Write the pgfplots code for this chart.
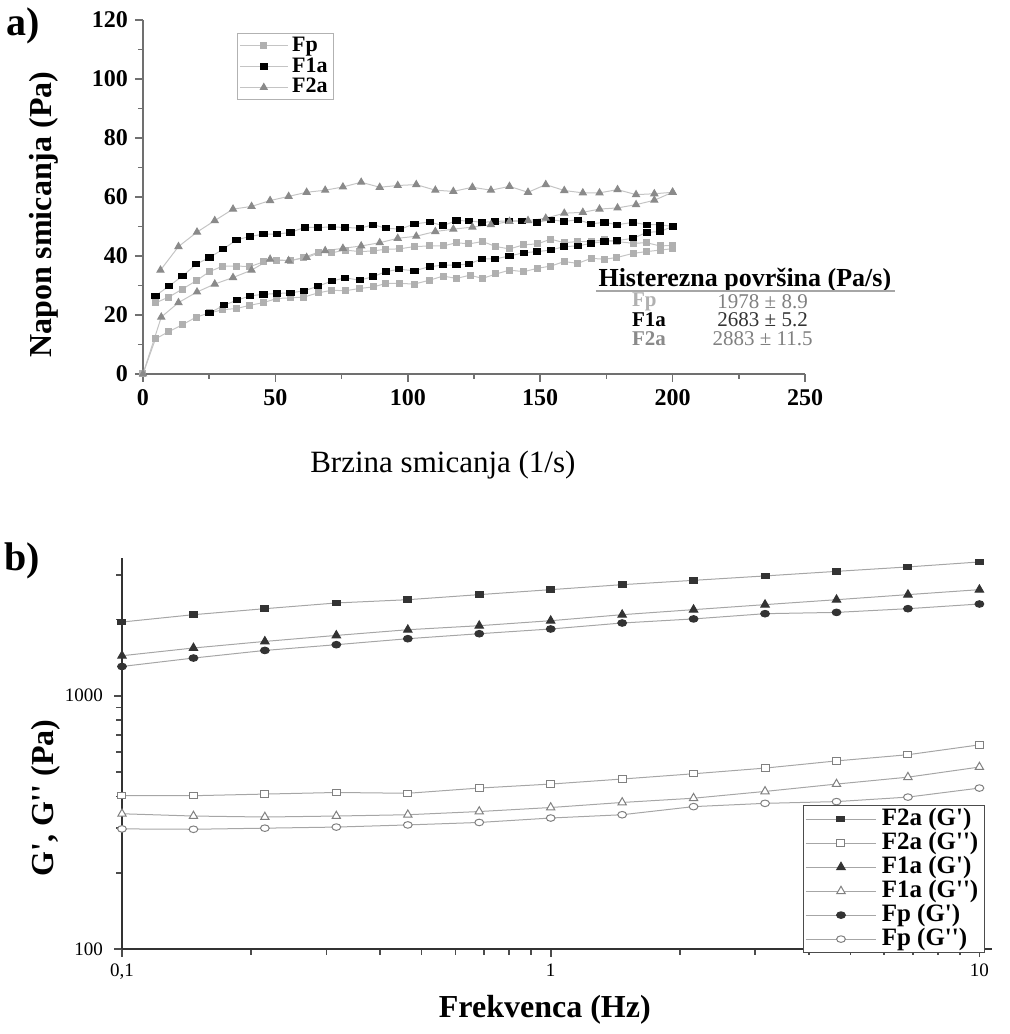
\documentclass[border=0pt]{standalone}
\usepackage{fontspec}
\setmainfont{Liberation Serif}
\usepackage{pgfplots}
\pgfplotsset{compat=1.18}
\definecolor{fpc}{HTML}{B0B0B0}
\definecolor{f2c}{HTML}{8A8A8A}
\definecolor{lnc}{HTML}{C4C4C4}
\definecolor{axc}{HTML}{707070}
\definecolor{mk}{HTML}{333333}
\begin{document}
\begin{tikzpicture}
\useasboundingbox (0,0) rectangle (504.5pt,517pt);
\node[font=\bfseries\fontsize{20}{22}\selectfont] at (11.5pt,504pt) {a)};
\node[font=\bfseries\fontsize{20}{22}\selectfont] at (11pt,236.5pt) {b)};

\begin{axis}[at={(71.5pt,330pt)}, anchor=south west, scale only axis,
  width=331pt, height=177pt, xmin=0, xmax=250, ymin=0, ymax=120,
  axis x line=bottom, axis y line=left,
  axis line style={-, axc, line width=1pt},
  xtick={0,50,...,250}, ytick={0,20,...,120},
  minor xtick={25,75,...,225}, minor ytick={10,30,...,110},
  tick align=outside, major tick length=4pt, minor tick length=2.5pt,
  tick style={axc, line width=0.8pt},
  tick label style={font=\bfseries\fontsize{12}{13}\selectfont},
  /pgf/number format/assume math mode=true,
  xlabel={Brzina smicanja (1/s)}, ylabel={Napon smicanja (Pa)},
  xlabel style={at={(axis description cs:0.453,-0.257)}, anchor=center, font=\fontsize{15.5}{16}\selectfont},
  ylabel style={at={(axis description cs:-0.15,0.45)}, anchor=center, font=\bfseries\fontsize{16}{17}\selectfont},
  clip=false,
  legend style={at={(axis description cs:0.142,0.963)}, anchor=north west, draw=gray!60,
    font=\bfseries\fontsize{11}{11}\selectfont, row sep=0pt, inner sep=1pt,
    nodes={inner ysep=0.3pt, inner xsep=2pt, text height=7.6pt, text depth=2.2pt}},
  legend cell align=left,
  legend image code/.code={\draw[#1, mark repeat=2, mark phase=2] plot coordinates {(0cm,0cm) (0.42cm,0cm) (0.84cm,0cm)};},
  every axis plot/.append style={lnc, line width=0.5pt},
]
% Fp
\addplot[lnc, mark=square*, mark size=1.5pt, mark options={fpc, draw=fpc, fill=fpc}] coordinates {
(0,0) (4.7,11.9) (9.8,14.4) (14.9,16.7) (20.1,19.3) (25.1,20.7) (30.2,21.8) (35.3,22.2) (40.4,23.3) (45.5,24.2) (50.6,25.6) (55.7,25.8) (60.8,26.1) (66.2,27.5) (71.3,28.4) (76.4,28.2) (81.8,29.0) (86.9,29.5) (91.7,30.7) (96.8,30.7) (102.5,30.5) (108.3,31.8) (113.3,33.2) (118.4,32.4) (123.5,33.5) (128.2,32.4) (133.3,33.9) (138.4,35.2) (143.8,34.7) (148.9,35.8) (154.0,36.6) (159.1,38.1) (164.2,37.5) (169.2,39.2) (174.3,38.9) (179.0,39.5) (185.1,40.9) (190.2,41.5) (195.3,42.0) (200,42.5)};
\addlegendentry{Fp}
\addplot[lnc, mark=square*, mark size=1.5pt, mark options={fpc, draw=fpc, fill=fpc}, forget plot] coordinates {
(4.7,24.1) (9.8,26.1) (14.9,28.8) (20.1,31.6) (25.1,34.7) (30.2,36.6) (35.3,36.6) (40.4,36.4) (45.5,38.0) (50.6,38.6) (55.7,38.4) (60.8,39.5) (66.2,41.3) (71.3,41.1) (76.4,42.0) (81.8,41.5) (86.9,41.7) (91.7,42.3) (96.8,42.4) (102.5,43.2) (108.3,43.4) (113.3,43.4) (118.4,44.5) (123.1,44.1) (128.2,44.9) (133.3,43.2) (138.4,42.4) (143.8,43.8) (148.9,44.1) (154.0,45.7) (159.1,44.5) (164.2,44.9) (169.2,44.9) (174.3,45.5) (179.0,44.9) (185.1,44.3) (190.2,44.5) (195.3,43.4) (200,43.6)};
% F1a
\addplot[lnc, mark=square*, mark size=1.8pt, mark options={black, draw=black, fill=black, yscale=0.75}] coordinates {
(4.7,26.5) (9.8,29.8) (14.9,33.2) (20.1,37.2) (25.1,39.5) (30.3,42.3) (35.3,45.5) (40.4,46.6) (45.5,47.4) (50.6,47.4) (55.7,48.0) (61.1,49.7) (66.2,49.7) (71.3,49.8) (76.4,49.7) (81.9,49.4) (87.0,50.6) (91.7,49.4) (97.2,49.1) (102.5,50.9) (108.3,51.5) (113.3,50.3) (118.4,52.0) (123.1,51.9) (128.0,51.4) (132.8,51.7) (138.1,51.9) (143.2,51.9) (148.9,51.4) (154.0,52.3) (159.1,51.7) (164.2,52.3) (169.2,50.9) (174.3,51.4) (179.0,50.6) (185.1,51.4) (190.2,50.6) (195.3,50.6) (200,50.0)};
\addlegendentry{F1a}
\addplot[lnc, mark=square*, mark size=1.8pt, mark options={black, draw=black, fill=black, yscale=0.75}, forget plot] coordinates {
(25.1,20.7) (30.6,23.3) (35.4,25.0) (40.5,26.5) (45.5,27.0) (50.7,27.3) (55.7,27.5) (60.8,28.2) (66.2,29.8) (71.3,31.5) (76.4,32.6) (81.8,31.8) (86.9,33.0) (91.7,34.7) (96.8,35.5) (102.5,35.0) (108.3,36.4) (113.3,36.9) (118.4,36.9) (123.1,37.3) (128.0,39.0) (133.0,39.0) (138.4,40.0) (143.8,41.1) (148.9,41.5) (154.0,42.0) (159.1,43.2) (164.2,43.4) (169.2,44.3) (174.3,44.9) (179.0,45.2) (185.1,46.0) (190.2,48.0) (195.3,48.3) (200,50.0)};
% F2a
\addplot[lnc, mark=triangle*, mark size=2pt, mark options={f2c, draw=f2c, fill=f2c}] coordinates {
(6.6,35.2) (13.4,43.2) (20.4,48.1) (27.1,52.0) (34.0,55.9) (41.0,56.8) (48.0,58.8) (55.0,60.2) (61.8,61.6) (68.8,62.3) (75.5,63.4) (82.4,65.0) (89.4,63.3) (96.2,63.9) (103.2,64.2) (110.4,62.3) (117.2,61.9) (124.4,63.3) (131.4,62.3) (138.4,63.6) (145.4,61.6) (152.1,64.2) (159.1,62.2) (166.1,61.4) (172.4,61.4) (179.2,62.5) (186.2,60.8) (193.1,61.1) (200,61.6)};
\addlegendentry{F2a}
\addplot[lnc, mark=triangle*, mark size=2pt, mark options={f2c, draw=f2c, fill=f2c}, forget plot] coordinates {
(0,0) (6.9,19.3) (13.4,24.2) (20.4,27.8) (27.1,30.5) (34.0,32.7) (41.0,35.2) (48.0,38.9) (55.0,38.4) (61.8,39.5) (68.8,41.8) (75.5,42.6) (82.4,43.4) (89.4,44.5) (96.2,46.0) (103.2,46.7) (110.4,48.3) (117.2,49.1) (124.4,49.8) (131.4,50.6) (138.4,51.7) (145.4,52.0) (152.1,52.8) (159.1,54.5) (166.1,54.8) (172.4,55.9) (179.2,56.3) (186.2,57.4) (193.1,58.9) (200,61.6)};

\node[font=\bfseries\fontsize{13}{14}\selectfont] at (axis cs:227.3,31.9) {Histerezna površina (Pa/s)};
\draw[gray!70, line width=0.8pt] (axis cs:171,28.2) -- (axis cs:284,28.2);
\node[anchor=west, font=\bfseries\fontsize{10.5}{11}\selectfont, text=fpc] at (axis cs:182,24.5) {Fp};
\node[anchor=west, font=\bfseries\fontsize{10.5}{11}\selectfont, text=black] at (axis cs:182,18.3) {F1a};
\node[anchor=west, font=\bfseries\fontsize{10.5}{11}\selectfont, text=f2c] at (axis cs:182,12.1) {F2a};
\node[font=\fontsize{10.5}{11}\selectfont, text=gray] at (axis cs:234,24.5) {1978 ± 8.9};
\node[font=\fontsize{10.5}{11}\selectfont, text=mk] at (axis cs:234,18.3) {2683 ± 5.2};
\node[font=\fontsize{10.5}{11}\selectfont, text=gray] at (axis cs:234,12.1) {2883 ± 11.5};
\end{axis}

\begin{axis}[at={(61pt,42.5pt)}, anchor=south west, scale only axis,
  width=435pt, height=195.5pt, xmode=log, ymode=log,
  xmin=0.1, xmax=10.7, ymin=100, ymax=3500,
  axis x line=bottom, axis y line=left,
  axis line style={-, black!80, line width=1.2pt},
  xtick={0.1,1,10}, xticklabels={{0,1},1,10},
  ytick={100,1000}, yticklabels={100,1000},
  minor xtick={0.2,0.3,0.4,0.5,0.6,0.7,0.8,0.9,2,3,4,5,6,7,8,9},
  minor ytick={200,300,400,500,600,700,800,900,2000,3000},
  tick align=outside, major tick length=4pt, minor tick length=3pt,
  tick style={black!70, line width=0.8pt},
  tick label style={font=\fontsize{9.5}{11}\selectfont},
  yticklabel style={xshift=-2pt},
  /pgf/number format/assume math mode=true,
  xlabel={Frekvenca (Hz)}, ylabel={G\textquotesingle, G\textquotesingle\textquotesingle\ (Pa)},
  xlabel style={at={(axis description cs:0.486,-0.156)}, anchor=center, font=\bfseries\fontsize{16}{17}\selectfont},
  ylabel style={at={(axis description cs:-0.088,0.386)}, anchor=center, font=\bfseries\fontsize{16}{17}\selectfont},
  clip=false,
  legend style={at={(axis description cs:0.783,0.368)}, anchor=north west, draw=black!70,
    font=\bfseries\fontsize{12.5}{12}\selectfont, row sep=0pt, inner sep=0.8pt, fill=white,
    nodes={inner ysep=0.4pt, inner xsep=2.5pt, text height=8.6pt, text depth=2.6pt}},
  legend cell align=left,
  legend image code/.code={\draw[#1, mark repeat=2, mark phase=2] plot coordinates {(0cm,0cm) (0.62cm,0cm) (1.24cm,0cm)};},
]
\addplot[gray!70, line width=0.5pt, mark=square*, mark size=2pt, mark options={mk, fill=mk, yscale=0.7, solid}] coordinates {
(0.1,1955) (0.1468,2090) (0.2154,2207) (0.3162,2325) (0.4642,2395) (0.6813,2508) (1,2624) (1.468,2746) (2.154,2856) (3.162,2973) (4.642,3099) (6.813,3227) (10,3376)};
\addlegendentry{F2a (G\textquotesingle)}
\addplot[gray!70, line width=0.5pt, mark=square*, mark size=2pt, mark options={gray, fill=white, yscale=0.8, solid}] coordinates {
(0.1,403) (0.1468,403) (0.2154,409) (0.3162,415) (0.4642,412) (0.6813,432) (1,448) (1.468,469) (2.154,492) (3.162,518) (4.642,553) (6.813,585) (10,640)};
\addlegendentry{F2a (G\textquotesingle\textquotesingle)}
\addplot[gray!70, line width=0.5pt, mark=triangle*, mark size=2.4pt, mark options={mk, fill=mk, solid}] coordinates {
(0.1,1439) (0.1468,1544) (0.2154,1639) (0.3162,1731) (0.4642,1823) (0.6813,1891) (1,1979) (1.468,2090) (2.154,2188) (3.162,2290) (4.642,2395) (6.813,2508) (10,2624)};
\addlegendentry{F1a (G\textquotesingle)}
\addplot[gray!70, line width=0.5pt, mark=triangle*, mark size=2.4pt, mark options={gray, fill=white, solid}] coordinates {
(0.1,342) (0.1468,335) (0.2154,332) (0.3162,335) (0.4642,339) (0.6813,349) (1,362) (1.468,379) (2.154,394) (3.162,419) (4.642,448) (6.813,477) (10,523)};
\addlegendentry{F1a (G\textquotesingle\textquotesingle)}
\addplot[gray!70, line width=0.5pt, mark=*, mark size=2.2pt, mark options={mk, fill=mk, yscale=0.75, solid}] coordinates {
(0.1,1305) (0.1468,1409) (0.2154,1510) (0.3162,1591) (0.4642,1680) (0.6813,1758) (1,1835) (1.468,1938) (2.154,2011) (3.162,2109) (4.642,2134) (6.813,2207) (10,2303)};
\addlegendentry{Fp (G\textquotesingle)}
\addplot[gray!70, line width=0.5pt, mark=*, mark size=2.2pt, mark options={gray, fill=white, yscale=0.75, solid}] coordinates {
(0.1,298) (0.1468,297) (0.2154,300) (0.3162,303) (0.4642,309) (0.6813,316) (1,329) (1.468,339) (2.154,365) (3.162,376) (4.642,382) (6.813,398) (10,432)};
\addlegendentry{Fp (G\textquotesingle\textquotesingle)}
\end{axis}
\end{tikzpicture}
\end{document}
